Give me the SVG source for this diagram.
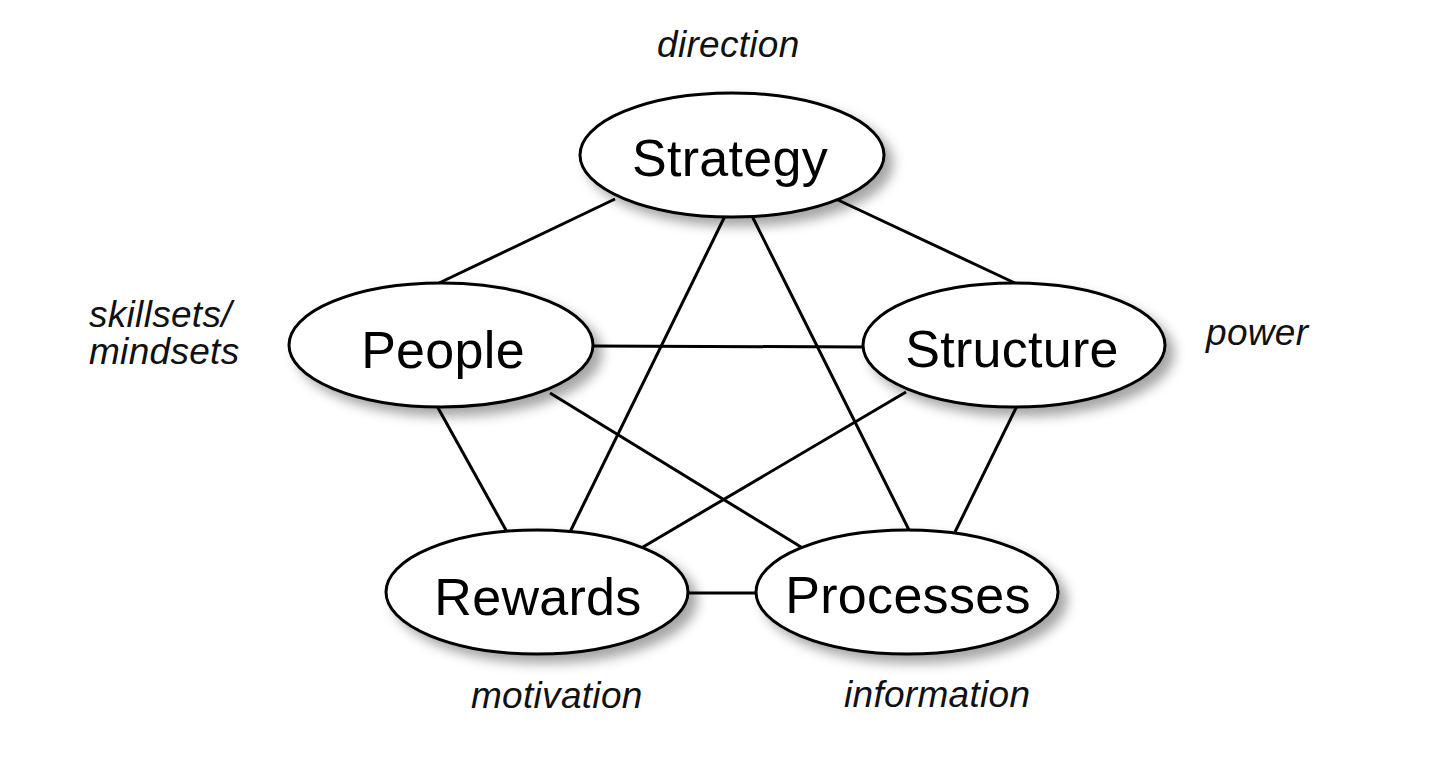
<svg xmlns="http://www.w3.org/2000/svg" width="1450" height="772" viewBox="0 0 1450 772">
<defs>
<filter id="sh" x="-20%" y="-30%" width="150%" height="170%">
<feDropShadow dx="8" dy="8" stdDeviation="6" flood-color="#000" flood-opacity="0.35"/>
</filter>
</defs>
<style>
.node ellipse{fill:#fff;stroke:#000;stroke-width:3;filter:url(#sh)}
.node text{font-family:"Liberation Sans",Arial,sans-serif;font-size:52px;letter-spacing:0.3px;fill:#000;text-anchor:middle}
.lbl{font-family:"Liberation Sans",Arial,sans-serif;font-size:37px;font-style:italic;letter-spacing:0.3px;fill:#111}
#connectors line{stroke:#000;stroke-width:3}
</style>
<rect width="1450" height="772" fill="#fff"/>
<g id="connectors">
<line x1="615" y1="199" x2="437" y2="284"/>
<line x1="838" y1="200" x2="1017" y2="284"/>
<line x1="725" y1="216" x2="570" y2="532"/>
<line x1="752" y1="216" x2="910" y2="532"/>
<line x1="592" y1="346" x2="865" y2="347"/>
<line x1="437" y1="406" x2="507" y2="532"/>
<line x1="550" y1="393" x2="801" y2="547"/>
<line x1="906" y1="392" x2="643" y2="547"/>
<line x1="1017" y1="406" x2="955" y2="532"/>
<line x1="687" y1="593" x2="760" y2="593"/>
</g>
<g id="strategy" class="node"><ellipse cx="732" cy="155" rx="152" ry="62"/><text x="730" y="176">Strategy</text></g>
<g id="people" class="node"><ellipse cx="441" cy="345" rx="152" ry="62"/><text x="443" y="368">People</text></g>
<g id="structure" class="node"><ellipse cx="1014" cy="345" rx="151" ry="62"/><text x="1012" y="367">Structure</text></g>
<g id="rewards" class="node"><ellipse cx="537" cy="592" rx="151" ry="62"/><text x="538" y="615">Rewards</text></g>
<g id="processes" class="node"><ellipse cx="907" cy="592" rx="151" ry="62"/><text x="908" y="613">Processes</text></g>
<g id="labels">
<text class="lbl" x="657" y="57">direction</text>
<text class="lbl" x="89" y="327">skillsets/</text>
<text class="lbl" x="89" y="364">mindsets</text>
<text class="lbl" x="1206" y="345">power</text>
<text class="lbl" x="471" y="708">motivation</text>
<text class="lbl" x="844" y="707">information</text>
</g>
</svg>
